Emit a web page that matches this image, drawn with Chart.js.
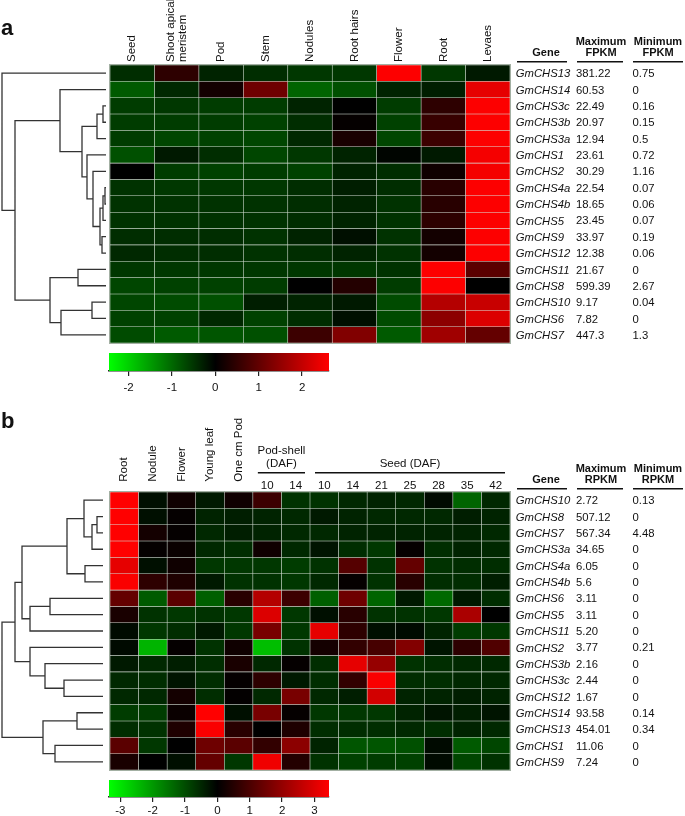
<!DOCTYPE html>
<html>
<head>
<meta charset="utf-8">
<script src="https://cdn.jsdelivr.net/npm/chart.js@4.4.0/dist/chart.umd.min.js"></script>
<style>
  body { margin: 0; background: #fff; }
  #wrap { position: relative; width: 685px; height: 816px; }
  #wrap canvas { position: absolute; left: 0; top: 0; }
</style>
</head>
<body>
<div id="wrap">
  <canvas id="heatA" width="685" height="816"></canvas>
  <canvas id="barA" width="685" height="816"></canvas>
  <canvas id="heatB" width="685" height="816"></canvas>
  <canvas id="barB" width="685" height="816"></canvas>
</div>
<script>
// ---- panel a : FPKM ----
var tissuesA = ["Seed", ["Shoot apical", "meristem"], "Pod", "Stem", "Nodules", "Root hairs", "Flower", "Root", "Levaes"];
var genesA = ["GmCHS13", "GmCHS14", "GmCHS3c", "GmCHS3b", "GmCHS3a", "GmCHS1", "GmCHS2", "GmCHS4a", "GmCHS4b",
              "GmCHS5", "GmCHS9", "GmCHS12", "GmCHS11", "GmCHS8", "GmCHS10", "GmCHS6", "GmCHS7"];
var maxFPKM = ["381.22", "60.53", "22.49", "20.97", "12.94", "23.61", "30.29", "22.54", "18.65",
               "23.45", "33.97", "12.38", "21.67", "599.39", "9.17", "7.82", "447.3"];
var minFPKM = ["0.75", "0", "0.16", "0.15", "0.5", "0.72", "1.16", "0.07", "0.06",
               "0.07", "0.19", "0.06", "0", "2.67", "0.04", "0", "1.3"];
var valuesA = [
  [-0.43, 0.46, -0.34, -0.43, -0.53, -0.53, 2.6, -0.53, -0.24],
  [-0.86, -0.38, 0.2, 1.13, -0.96, -0.77, -0.34, -0.29, 2.36],
  [-0.58, -0.53, -0.58, -0.58, -0.34, 0.0, -0.58, 0.46, 2.6],
  [-0.58, -0.58, -0.58, -0.62, -0.43, 0.05, -0.62, 0.56, 2.6],
  [-0.58, -0.67, -0.62, -0.67, -0.38, 0.26, -0.67, 0.62, 2.6],
  [-0.77, -0.24, -0.43, -0.67, -0.53, -0.34, -0.05, -0.24, 2.52],
  [0.0, -0.58, -0.62, -0.58, -0.62, -0.34, -0.43, 0.15, 2.52],
  [-0.48, -0.53, -0.53, -0.53, -0.43, -0.29, -0.43, 0.41, 2.6],
  [-0.48, -0.48, -0.48, -0.48, -0.43, -0.34, -0.48, 0.41, 2.6],
  [-0.48, -0.48, -0.48, -0.48, -0.43, -0.34, -0.48, 0.46, 2.6],
  [-0.43, -0.43, -0.43, -0.48, -0.34, -0.14, -0.48, 0.2, 2.6],
  [-0.38, -0.43, -0.43, -0.48, -0.43, -0.34, -0.48, 0.2, 2.6],
  [-0.53, -0.53, -0.53, -0.53, -0.53, -0.53, -0.48, 2.6, 0.92],
  [-0.67, -0.62, -0.62, -0.58, 0.0, 0.36, -0.58, 2.6, 0.0],
  [-0.67, -0.72, -0.77, -0.29, -0.34, -0.24, -0.72, 1.85, 2.05],
  [-0.62, -0.62, -0.38, -0.62, -0.43, -0.14, -0.72, 1.44, 2.26],
  [-0.72, -0.86, -0.82, -0.77, 0.62, 1.33, -0.86, 1.64, 1.03]
];
// [child1, child2, height]; leaves are 0..16, merged clusters 17..
var linkA = [
  [2, 3, 3], [17, 4, 9], [7, 8, 1], [19, 9, 3], [10, 11, 4], [20, 21, 6], [6, 22, 13],
  [5, 23, 19], [18, 24, 24], [1, 25, 46], [12, 13, 28], [14, 15, 14], [28, 16, 45],
  [27, 29, 56], [26, 30, 91], [0, 31, 104]
];
var rangeA = [-2.45, 2.62];
var ticksA = [-2, -1, 0, 1, 2];

// ---- panel b : RPKM ----
var tissuesB = ["Root", "Nodule", "Flower", "Young leaf", "One cm Pod"];
var podDays = ["10", "14"];
var seedDays = ["10", "14", "21", "25", "28", "35", "42"];
var genesB = ["GmCHS10", "GmCHS8", "GmCHS7", "GmCHS3a", "GmCHS4a", "GmCHS4b", "GmCHS6", "GmCHS5", "GmCHS11",
              "GmCHS2", "GmCHS3b", "GmCHS3c", "GmCHS12", "GmCHS14", "GmCHS13", "GmCHS1", "GmCHS9"];
var maxRPKM = ["2.72", "507.12", "567.34", "34.65", "6.05", "5.6", "3.11", "3.11", "5.20",
               "3.77", "2.16", "2.44", "1.67", "93.58", "454.01", "11.06", "7.24"];
var minRPKM = ["0.13", "0", "4.48", "0", "0", "0", "0", "0", "0",
               "0.21", "0", "0", "0", "0.14", "0.34", "0", "0"];
var valuesB = [
  [3.45, -0.2, 0.2, -0.33, 0.2, 0.81, -0.66, -0.66, -0.53, -0.46, -0.53, -0.13, -1.31, -0.53],
  [3.45, -0.2, 0.07, -0.46, -0.39, -0.46, -0.53, -0.33, -0.46, -0.53, -0.53, -0.53, -0.39, -0.46],
  [3.45, 0.27, 0.07, -0.53, -0.39, -0.46, -0.53, -0.53, -0.46, -0.46, -0.46, -0.46, -0.46, -0.53],
  [3.45, 0.07, 0.14, -0.53, -0.59, 0.2, -0.53, -0.26, -0.59, -0.72, 0.07, -0.59, -0.46, -0.53],
  [3.11, -0.2, 0.2, -0.72, -0.72, -0.72, -0.79, -0.66, 1.15, -0.66, 1.35, -0.66, -0.59, -0.59],
  [3.38, 0.61, 0.41, -0.33, -0.66, -0.66, -0.72, -0.53, 0.07, -0.66, 0.54, -0.59, -0.59, -0.39],
  [1.35, -1.18, 1.22, -1.25, 0.54, 2.44, 0.81, -1.25, 1.49, -1.31, -0.33, -1.38, -0.33, -0.59],
  [0.34, -0.66, -0.72, -0.66, -0.72, 2.98, -0.72, -0.2, 0.54, -0.66, -0.66, -0.72, 2.3, 0.0],
  [-0.13, -0.72, -0.59, -0.33, -0.72, 1.62, -0.72, 3.11, 0.61, -0.2, -0.13, -0.46, -0.79, -0.72],
  [-0.13, -2.37, 0.07, -0.66, 0.2, -2.5, -0.66, 0.27, 0.68, 0.95, 1.76, -0.26, 0.61, 1.08],
  [-0.33, -0.53, -0.39, -0.59, 0.34, -0.53, 0.07, -0.59, 3.11, 2.03, -0.66, -0.59, -0.53, -0.53],
  [-0.53, -0.59, -0.26, -0.59, 0.07, 0.61, -0.33, -0.59, 0.68, 3.38, -0.59, -0.59, -0.53, -0.53],
  [-0.53, -0.53, 0.27, -0.59, 0.04, -0.53, 1.62, -0.53, -0.39, 2.84, -0.46, -0.46, -0.39, -0.46],
  [-0.79, -0.79, 0.14, 3.45, -0.2, 1.62, 0.07, -0.72, -0.72, -0.72, -0.46, -0.26, -0.39, -0.26],
  [-0.59, -0.66, 0.41, 3.38, 0.54, 0.0, 0.41, -0.59, -0.59, -0.59, -0.53, -0.59, -0.46, -0.53],
  [1.22, -0.72, 0.0, 1.49, 1.22, 0.68, 1.89, -0.46, -1.12, -1.12, -1.05, -0.13, -1.18, -0.92],
  [0.34, 0.0, -0.2, 1.35, -0.72, 3.25, 0.47, -0.66, -0.85, -0.79, -0.85, -0.13, -0.92, -0.66]
];
var linkB = [
  [1, 2, 6], [17, 3, 11], [0, 18, 19], [4, 5, 18], [19, 20, 36], [6, 7, 53], [22, 8, 73],
  [21, 23, 81], [11, 12, 39], [10, 25, 58], [9, 26, 73], [24, 27, 88], [13, 14, 26],
  [15, 16, 48], [29, 30, 60], [28, 31, 101]
];
var rangeB = [-3.35, 3.45];
var ticksB = [-3, -2, -1, 0, 1, 2, 3];

var FONT = "'Liberation Sans', Arial, Helvetica, sans-serif";
var INK = "#111";

function cellColor(v, range) {
  if (v >= 0) return "rgb(" + Math.round(255 * Math.min(1, v / range[1])) + ",0,0)";
  return "rgb(0," + Math.round(255 * Math.min(1, v / range[0])) + ",0)";
}

function drawDendrogram(ctx, yScale, links, nLeaves, leafX, rootX) {
  var k = (leafX - rootX) / links[links.length - 1][2];
  var nodes = [];
  for (var i = 0; i < nLeaves; i++) nodes.push({ x: leafX, y: yScale.getPixelForValue(i + 0.5) });
  ctx.save();
  ctx.strokeStyle = "#333";
  ctx.lineWidth = 1.3;
  ctx.beginPath();
  links.forEach(function (l) {
    var a = nodes[l[0]], b = nodes[l[1]];
    var x = leafX - l[2] * k;
    ctx.moveTo(a.x, a.y);
    ctx.lineTo(x, a.y);
    ctx.lineTo(x, b.y);
    ctx.lineTo(b.x, b.y);
    nodes.push({ x: x, y: (a.y + b.y) / 2 });
  });
  ctx.stroke();
  ctx.restore();
}

function drawRotated(ctx, label, cx, bottom) {
  var lines = Array.isArray(label) ? label : [label];
  lines.forEach(function (line, i) {
    var off = (i - (lines.length - 1) / 2) * 12.3;
    ctx.save();
    ctx.translate(cx + off, bottom);
    ctx.rotate(-Math.PI / 2);
    ctx.textAlign = "left";
    ctx.textBaseline = "middle";
    ctx.fillText(line, 0, 0);
    ctx.restore();
  });
}

function drawTable(ctx, yScale, genes, maxs, mins, unit, ul) {
  ctx.save();
  ctx.fillStyle = INK;
  ctx.strokeStyle = INK;
  ctx.font = "bold 11px " + FONT;
  ctx.textAlign = "center";
  ctx.textBaseline = "middle";
  ctx.fillText("Gene", 546, ul - 8.4);
  ctx.fillText("Maximum", 601, ul - 20);
  ctx.fillText(unit, 601, ul - 8.4);
  ctx.fillText("Minimum", 658, ul - 20);
  ctx.fillText(unit, 658, ul - 8.4);
  ctx.lineWidth = 1.5;
  [[517, 567], [577, 623], [633, 683]].forEach(function (s) {
    ctx.beginPath();
    ctx.moveTo(s[0], ul);
    ctx.lineTo(s[1], ul);
    ctx.stroke();
  });
  ctx.textAlign = "left";
  genes.forEach(function (g, i) {
    var y = yScale.getPixelForValue(i + 0.5) + 1;
    ctx.font = "italic 11.3px " + FONT;
    ctx.fillText(g, 515.7, y);
    ctx.font = "11.3px " + FONT;
    ctx.fillText(maxs[i], 576, y);
    ctx.fillText(mins[i], 632.5, y);
  });
  ctx.restore();
}

function drawFrame(ctx, area) {
  ctx.save();
  ctx.strokeStyle = "#a3b0a3";
  ctx.lineWidth = 1;
  ctx.strokeRect(area.left - 0.5, area.top - 0.5, area.right - area.left + 1, area.bottom - area.top + 1);
  ctx.restore();
}

function heatmap(id, columns, genes, values, range, pad, plugin) {
  var datasets = values.map(function (row, i) {
    return {
      label: genes[i],
      data: row.map(function () { return 1; }),
      backgroundColor: row.map(function (v) { return cellColor(v, range); }),
      borderColor: "rgba(150,175,150,0.28)",
      borderWidth: 0.6,
      borderSkipped: false,
      barPercentage: 1,
      categoryPercentage: 1
    };
  });
  return new Chart(id, {
    type: "bar",
    data: { labels: columns, datasets: datasets },
    options: {
      responsive: false,
      animation: false,
      layout: { padding: pad },
      plugins: { legend: { display: false }, tooltip: { enabled: false } },
      scales: {
        x: { stacked: true, display: false },
        y: { stacked: true, display: false, min: 0, max: genes.length, reverse: true }
      }
    },
    plugins: [plugin]
  });
}

function colorbar(id, range, ticks, pad, axisH, tickPad) {
  return new Chart(id, {
    type: "bar",
    data: {
      labels: ["scale"],
      datasets: [{
        data: [[range[0], range[1]]],
        borderWidth: 0,
        barPercentage: 1,
        categoryPercentage: 1,
        backgroundColor: function (c) {
          var ch = c.chart, a = ch.chartArea;
          if (!a) return "#000";
          var t0 = (ch.scales.x.getPixelForValue(0) - a.left) / (a.right - a.left);
          var g = ch.ctx.createLinearGradient(a.left, 0, a.right, 0);
          g.addColorStop(0, "#00ff00");
          g.addColorStop(t0, "#000000");
          g.addColorStop(1, "#ff0000");
          return g;
        }
      }]
    },
    options: {
      indexAxis: "y",
      responsive: false,
      animation: false,
      layout: { padding: pad },
      plugins: { legend: { display: false }, tooltip: { enabled: false } },
      scales: {
        x: {
          type: "linear",
          z: 1,
          min: range[0],
          max: range[1],
          afterBuildTicks: function (s) { s.ticks = ticks.map(function (v) { return { value: v }; }); },
          afterFit: function (s) { s.height = axisH; },
          grid: { drawOnChartArea: false, drawTicks: true, tickLength: 5, color: "#222", lineWidth: 1.2 },
          border: { display: true, color: "#222", width: 1.5 },
          ticks: { color: INK, padding: tickPad, font: { family: FONT, size: 11.5 } }
        },
        y: { display: false }
      }
    }
  });
}

// panel a
heatmap("heatA", tissuesA, genesA, valuesA, rangeA,
  { left: 110, right: 175, top: 65, bottom: 473 },
  {
    id: "panelA",
    afterDraw: function (chart) {
      var ctx = chart.ctx, area = chart.chartArea, xs = chart.scales.x, ys = chart.scales.y;
      drawFrame(ctx, area);
      drawDendrogram(ctx, ys, linkA, genesA.length, 106, 2);
      ctx.save();
      ctx.fillStyle = INK;
      ctx.font = "11.5px " + FONT;
      tissuesA.forEach(function (t, j) { drawRotated(ctx, t, xs.getPixelForValue(j), area.top - 3); });
      ctx.font = "bold 22px " + FONT;
      ctx.textAlign = "left";
      ctx.textBaseline = "alphabetic";
      ctx.fillText("a", 1, 35);
      ctx.restore();
      drawTable(ctx, ys, genesA, maxFPKM, minFPKM, "FPKM", 61.7);
    }
  });
colorbar("barA", rangeA, ticksA, { left: 109, right: 356, top: 353, bottom: 425 }, 20, 5);

// panel b
var columnsB = tissuesB
  .concat(podDays.map(function (d) { return "Pod-shell " + d; }))
  .concat(seedDays.map(function (d) { return "Seed " + d; }));

heatmap("heatB", columnsB, genesB, valuesB, rangeB,
  { left: 110, right: 175, top: 492, bottom: 46 },
  {
    id: "panelB",
    afterDraw: function (chart) {
      var ctx = chart.ctx, area = chart.chartArea, xs = chart.scales.x, ys = chart.scales.y;
      var colW = (area.right - area.left) / columnsB.length;
      drawFrame(ctx, area);
      drawDendrogram(ctx, ys, linkB, genesB.length, 103, 2);
      ctx.save();
      ctx.fillStyle = INK;
      ctx.strokeStyle = INK;
      ctx.font = "11.5px " + FONT;
      tissuesB.forEach(function (t, j) { drawRotated(ctx, t, xs.getPixelForValue(j), 481.7); });
      ctx.textAlign = "center";
      ctx.textBaseline = "middle";
      var days = podDays.concat(seedDays);
      days.forEach(function (d, k) { ctx.fillText(d, xs.getPixelForValue(tissuesB.length + k), 486); });
      var p0 = tissuesB.length, p1 = p0 + podDays.length - 1;
      var s0 = p1 + 1, s1 = s0 + seedDays.length - 1;
      var podX = (xs.getPixelForValue(p0) + xs.getPixelForValue(p1)) / 2;
      var seedX = (xs.getPixelForValue(s0) + xs.getPixelForValue(s1)) / 2;
      ctx.fillText("Pod-shell", podX, 451);
      ctx.fillText("(DAF)", podX, 464);
      ctx.fillText("Seed (DAF)", seedX, 464);
      ctx.lineWidth = 1.5;
      [[p0, p1], [s0, s1]].forEach(function (g) {
        ctx.beginPath();
        ctx.moveTo(xs.getPixelForValue(g[0]) - colW / 2 + 5, 472.7);
        ctx.lineTo(xs.getPixelForValue(g[1]) + colW / 2 - 5, 472.7);
        ctx.stroke();
      });
      ctx.font = "bold 22px " + FONT;
      ctx.textAlign = "left";
      ctx.textBaseline = "alphabetic";
      ctx.fillText("b", 1, 428);
      ctx.restore();
      drawTable(ctx, ys, genesB, maxRPKM, minRPKM, "RPKM", 488.7);
    }
  });
colorbar("barB", rangeB, ticksB, { left: 109, right: 356, top: 780, bottom: 0 }, 19, 2);
</script>
</body>
</html>
